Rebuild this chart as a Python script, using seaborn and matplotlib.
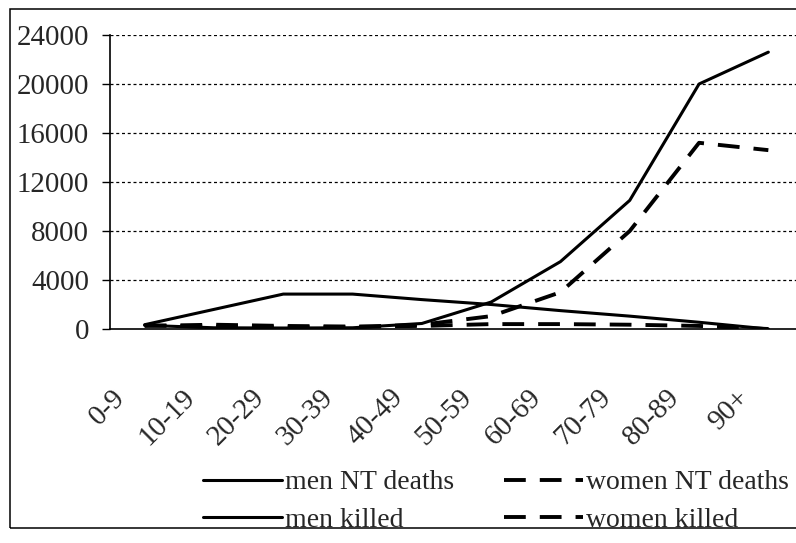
import numpy as np
import pandas as pd
import matplotlib
matplotlib.use("Agg")
import matplotlib.pyplot as plt
import matplotlib.transforms as mtrans
from matplotlib.patches import Rectangle
import seaborn as sns

categories = ['0-9', '10-19', '20-29', '30-39', '40-49', '50-59', '60-69', '70-79', '80-89', '90+']
men_nt_deaths = [300, 100, 80, 100, 450, 2200, 5500, 10500, 20000, 22600]
women_nt_deaths = [300, 200, 150, 150, 350, 1050, 3000, 8000, 15200, 14600]
men_killed = [350, 1600, 2850, 2850, 2400, 2000, 1500, 1050, 550, 0]
women_killed = [250, 350, 250, 200, 250, 400, 400, 350, 250, 0]
series_names = ['men NT deaths', 'women NT deaths', 'men killed', 'women killed']
y_ticks = [0, 4000, 8000, 12000, 16000, 20000, 24000]

df = pd.DataFrame({
    'age': categories * 4,
    'value': men_nt_deaths + women_nt_deaths + men_killed + women_killed,
    'series': np.repeat(series_names, len(categories)),
})

sns.set_style('white')
plt.rcParams['font.family'] = ['Liberation Serif', 'DejaVu Serif']
FS = 20.8
LFS = 20.0
plt.rcParams['font.size'] = FS

W, H = 796, 543
fig = plt.figure(figsize=(W / 100, H / 100), dpi=100)
ax = fig.add_axes([110 / W, (H - 329) / H, 693 / W, (329 - 35) / H])

dash = (5.6, 3.6)
sns.lineplot(data=df, x='age', y='value', hue='series', style='series',
             hue_order=series_names, style_order=series_names,
             palette=['black'] * 4,
             dashes={'men NT deaths': '', 'men killed': '',
                     'women NT deaths': dash, 'women killed': dash},
             sort=False, ax=ax, legend='auto')

for line, name in zip(ax.get_lines()[:4], series_names):
    line.set_linewidth(2.2 if name.startswith('men') else 2.8)

ax.set_xlim(-0.5, len(categories) - 0.5)
ax.set_ylim(0, 24000)
ax.set_yticks(y_ticks)
ax.set_yticklabels([str(v) for v in y_ticks])
ax.set_xticks(range(len(categories)))
ax.set_xticklabels(categories, rotation=45, ha='right', va='top')
ax.set_xticks(np.arange(-0.5, len(categories)), minor=True)
ax.tick_params(axis='x', which='major', length=0, pad=40)
ax.tick_params(axis='x', which='minor', length=7.2, width=1, color='black', direction='out')
ax.tick_params(axis='y', length=6, width=1, color='black', direction='out', pad=9, left=True)
offset = mtrans.ScaledTranslation(-14 / 100, 0, fig.dpi_scale_trans)
for lab in ax.get_xticklabels():
    lab.set_transform(lab.get_transform() + offset)

ax.set_xlabel('')
ax.set_ylabel('')
for s in ['top', 'right']:
    ax.spines[s].set_visible(False)
for s in ['left', 'bottom']:
    ax.spines[s].set_color('black')
    ax.spines[s].set_linewidth(1.2)

for v in y_ticks[1:]:
    ax.axhline(v, color='black', lw=0.9, ls=(0, (2.4, 2.2)), zorder=0)

handles, labels = ax.get_legend_handles_labels()
ax.get_legend().remove()
hmap = dict(zip(labels, handles))
order = ['men NT deaths', 'men killed', 'women NT deaths', 'women killed']
hs = [hmap[k] for k in order]
for h, name in zip(hs, order):
    h.set_color('black')
    h.set_linewidth(2.2 if name.startswith('men') else 2.8)
fig.legend(hs, order, loc='upper left', bbox_to_anchor=(203 / W, (H - 470) / H),
           bbox_transform=fig.transFigure, ncol=2, frameon=False, borderpad=0,
           borderaxespad=0, handlelength=2.85, handletextpad=0.1, columnspacing=1.8,
           labelspacing=0.42, fontsize=LFS)

fig.add_artist(Rectangle((10 / W, (H - 528) / H), 1.2, (528 - 9) / H,
                         transform=fig.transFigure, fill=False, edgecolor='black',
                         lw=1.1, clip_on=False))

fig.savefig('out.png', dpi=100)
